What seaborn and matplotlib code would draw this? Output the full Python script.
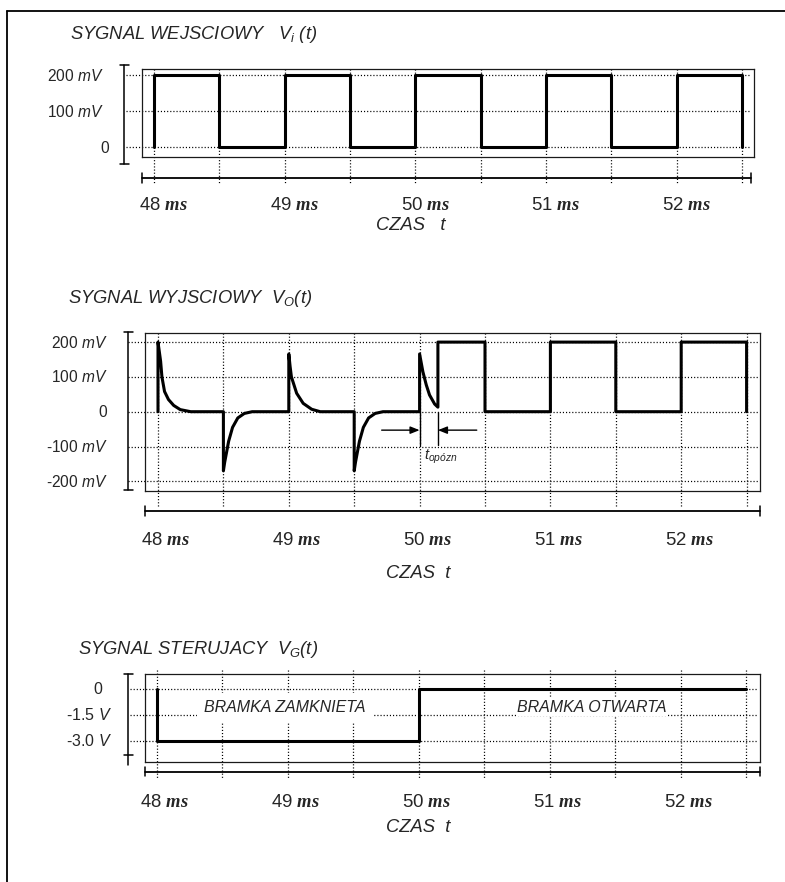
import matplotlib
matplotlib.use("Agg")
import matplotlib.pyplot as plt
import matplotlib.transforms as mtransforms
from matplotlib.lines import Line2D
import seaborn as sns

sns.set_style("white")
plt.rcParams["font.family"] = ["Liberation Sans", "DejaVu Sans"]
plt.rcParams["mathtext.fontset"] = "custom"
plt.rcParams["mathtext.rm"] = "Liberation Sans"
plt.rcParams["mathtext.it"] = "Liberation Sans:italic"
plt.rcParams["mathtext.bf"] = "Liberation Serif:italic:bold"

W, H, DPI = 785, 882, 100

# ---- data -------------------------------------------------------------
# time axis (ms)
time_ticks = [48, 49, 50, 51, 52]
time_labels = ["48 $\\mathbf{ms}$", "49 $\\mathbf{ms}$", "50 $\\mathbf{ms}$",
               "51 $\\mathbf{ms}$", "52 $\\mathbf{ms}$"]
grid_t = [48.0, 48.5, 49.0, 49.5, 50.0, 50.5, 51.0, 51.5, 52.0, 52.5]

# input signal Vi(t), mV (step points)
t_in = [48.0, 48.0, 48.5, 49.0, 49.5, 50.0, 50.5, 51.0, 51.5, 52.0, 52.5]
v_in = [0, 200, 0, 200, 0, 200, 0, 200, 0, 200, 0]
in_ticks = [200, 100, 0]
in_tick_labels = ["200 $\\mathit{mV}$", "100 $\\mathit{mV}$", "$\\mathit{0}$"]

# output signal Vo(t): transients while the gate is closed (offset ms, mV)
rise48_dt = [0.0, 0.02, 0.03, 0.05, 0.08, 0.12, 0.17, 0.25]
rise48_mv = [200, 145, 100, 58, 35, 18, 6, 0]
rise49_dt = [0.0, 0.01, 0.02, 0.06, 0.11, 0.175, 0.24]
rise49_mv = [166, 130, 100, 53, 24, 7, 0]
fall_dt = [0.0, 0.01, 0.025, 0.04, 0.07, 0.11, 0.16, 0.22]
fall_mv = [-170, -145, -115, -85, -45, -18, -5, 0]
rise50_dt = [0.0, 0.025, 0.051, 0.076, 0.115, 0.14]
rise50_mv = [166, 115, 77, 48, 22, 13]
# output once the gate is open (step points, ms / mV)
open_t = [50.14, 50.5, 51.0, 51.5, 52.0, 52.5]
open_mv = [200, 0, 200, 0, 200, 0]
out_ticks = [200, 100, 0, -100, -200]
out_tick_labels = ["200 $\\mathit{mV}$", "100 $\\mathit{mV}$", "$\\mathit{0}$",
                   "-100 $\\mathit{mV}$", "-200 $\\mathit{mV}$"]
delay_start, delay_end = 50.0, 50.14

# gate signal VG(t), V (step points)
t_gate = [48.0, 48.0, 50.0, 52.5]
v_gate = [0.0, -3.0, 0.0, 0.0]
gate_ticks = [0.0, -1.5, -3.0]
gate_tick_labels = ["0", "-1.5 $\\mathit{V}$", "-3.0 $\\mathit{V}$"]

# ---- assemble the output trace ---------------------------------------
segments = [(48.0, rise48_dt, rise48_mv), (48.5, fall_dt, fall_mv),
            (49.0, rise49_dt, rise49_mv), (49.5, fall_dt, fall_mv),
            (50.0, rise50_dt, rise50_mv)]
t_out, v_out = [], []
for t0, dts, mvs in segments:
    t_out += [t0] + [t0 + d for d in dts]
    v_out += [0] + list(mvs)
prev = v_out[-1]
for t, v in zip(open_t, open_mv):
    t_out += [t, t]
    v_out += [prev, v]
    prev = v

# ---- figure ------------------------------------------------------------
fig = plt.figure(figsize=(W / DPI, H / DPI), dpi=DPI)
fig.patch.set_facecolor("white")

fig.add_artist(Line2D([7 / W, 7 / W], [1 - 11 / H, 0], color="black", lw=1.3))
fig.add_artist(Line2D([7 / W, 1], [1 - 11 / H, 1 - 11 / H], color="black", lw=1.3))

DOT = dict(color="black", lw=0.9, linestyle=(0, (0.9, 1.6)), zorder=1)
WAVE = dict(color="black", linewidth=2.2, estimator=None, sort=False, zorder=3)


def fig_text(xp, yp, s, **kw):
    fig.text(xp / W, 1 - yp / H, s, **kw)


def panel(box, tref, pxms, vref, pxu, hgrid_x, vgrid_y, brk, xaxis,
          ticks, tick_labels, ylab_right, ylab_size, tlab_base, tlab_dx):
    L, T, R, B = box
    ax = fig.add_axes([L / W, 1 - B / H, (R - L) / W, (B - T) / H])
    ax.set_xlim(48 + (L - tref) / pxms, 48 + (R - tref) / pxms)
    ax.set_ylim((vref - B) / pxu, (vref - T) / pxu)
    ax.set_xticks([])
    ax.set_yticks([])
    for s in ax.spines.values():
        s.set_visible(True)
        s.set_linewidth(0.9)
        s.set_color("#1a1a1a")

    def axx(p):
        return (p - L) / (R - L)

    def axy(p):
        return (B - p) / (B - T)

    ytr = ax.get_yaxis_transform()
    xtr = ax.get_xaxis_transform()
    for v in ticks:
        ax.plot([axx(hgrid_x[0]), axx(hgrid_x[1])], [v, v], transform=ytr,
                clip_on=False, **DOT)
    for t in grid_t:
        ax.plot([t, t], [axy(vgrid_y[0]), axy(vgrid_y[1])], transform=xtr,
                clip_on=False, **DOT)

    # vertical bracket of the value axis
    bx, by0, by1, caps = brk
    ax.plot([axx(bx)] * 2, [axy(by0), axy(by1)], transform=ax.transAxes,
            clip_on=False, color="black", lw=1.1)
    for cy in caps:
        ax.plot([axx(bx - 4.5), axx(bx + 4.5)], [axy(cy)] * 2,
                transform=ax.transAxes, clip_on=False, color="black", lw=1.1)

    # time axis line with end caps
    ay, xr, c0, c1 = xaxis
    ax.plot([axx(L), axx(xr)], [axy(ay)] * 2, transform=ax.transAxes,
            clip_on=False, color="black", lw=1.3)
    for cx in (L, xr):
        ax.plot([axx(cx)] * 2, [axy(c0), axy(c1)], transform=ax.transAxes,
                clip_on=False, color="black", lw=1.1)

    # value labels
    yoff = mtransforms.ScaledTranslation(0, -0.358 * ylab_size / 72,
                                         fig.dpi_scale_trans)
    for v, lab, xr_ in zip(ticks, tick_labels, ylab_right):
        ax.text(axx(xr_), v, lab, transform=ytr + yoff, ha="right",
                va="baseline", fontsize=ylab_size, clip_on=False)

    # time labels
    xoff = mtransforms.ScaledTranslation(tlab_dx / DPI, 0, fig.dpi_scale_trans)
    for t, lab in zip(time_ticks, time_labels):
        ax.text(t, axy(tlab_base), lab, transform=xtr + xoff, ha="center",
                va="baseline", fontsize=13.4, clip_on=False)
    return ax


TITLE = dict(fontsize=13.2, style="italic", va="baseline", ha="left")
AXLAB = dict(fontsize=13.2, style="italic", va="baseline", ha="left")

# ---- input panel ------------------------------------------------------
ax1 = panel((142, 69, 754, 157), 154, 130.67, 147, 0.3575,
            (126, 751), (69, 183), (124, 65, 164, (65, 164)),
            (178.3, 751, 172.7, 183), in_ticks, in_tick_labels,
            [104, 104, 110], 11.2, 210, 10)
sns.lineplot(x=t_in, y=v_in, drawstyle="steps-post", ax=ax1, **WAVE)
fig_text(70, 39.3, "SYGNAL WEJSCIOWY   $V_i$ (t)", **TITLE)
fig_text(376, 230, "CZAS   t", **AXLAB)

# ---- output panel -----------------------------------------------------
ax2 = panel((145, 332.5, 760, 490.5), 158, 130.8, 411.7, 0.348,
            (128, 758), (332.5, 507), (128, 332.3, 490, (332.3, 490)),
            (510.7, 760, 505.5, 516), out_ticks, out_tick_labels,
            [108] * 5, 11.2, 545, 8)
sns.lineplot(x=t_out, y=v_out, ax=ax2, **WAVE)
arrow_y = -53
ARW = dict(arrowstyle="-|>,head_length=0.55,head_width=0.22", color="black",
           lw=1.0, shrinkA=0, shrinkB=0, mutation_scale=10)
ax2.annotate("", xy=(delay_start, arrow_y), xytext=(49.71, arrow_y),
             arrowprops=ARW, zorder=4)
ax2.annotate("", xy=(delay_end, arrow_y), xytext=(50.437, arrow_y),
             arrowprops=ARW, zorder=4)
for t in (delay_start, delay_end):
    ax2.plot([t, t], [0, -97], color="black", lw=1.0, zorder=4)
ax2.text(delay_start + 0.035, -130, "$t_{\\mathit{opózn}}$", fontsize=10.5,
         ha="left", va="center", zorder=4)
fig_text(68, 302.7, "SYGNAL WYJSCIOWY  $V_O$(t)", **TITLE)
fig_text(386.5, 578.3, "CZAS  t", **AXLAB)

# ---- gate panel -------------------------------------------------------
ax3 = panel((145, 674, 760, 762), 157, 131.0, 688.5, 17.4,
            (130, 758), (670, 778), (128.3, 674, 765, (674, 755)),
            (771.7, 760, 766.7, 776), gate_ticks, gate_tick_labels,
            [102, 112, 112], 11.5, 806.7, 8)
sns.lineplot(x=t_gate, y=v_gate, drawstyle="steps-post", ax=ax3, **WAVE)
fig_text(285, 711.7, "BRAMKA ZAMKNIETA", fontsize=11.5, style="italic",
         ha="center", va="baseline", zorder=5,
         bbox=dict(facecolor="white", edgecolor="none", pad=5))
fig_text(591.7, 711.7, "BRAMKA OTWARTA", fontsize=11.5, style="italic",
         ha="center", va="baseline", zorder=5,
         bbox=dict(facecolor="white", edgecolor="none", pad=1))
fig_text(78, 654, "SYGNAL STERUJACY  $V_G$(t)", **TITLE)
fig_text(386.5, 831.7, "CZAS  t", **AXLAB)

for ax in (ax1, ax2, ax3):
    ax.set_xlabel("")
    ax.set_ylabel("")

fig.savefig("out.png", dpi=DPI, facecolor="white")
